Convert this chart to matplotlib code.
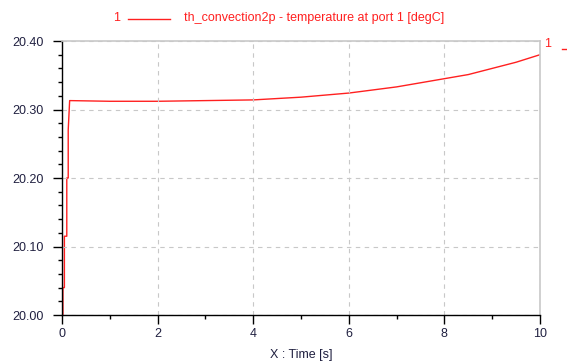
import matplotlib
matplotlib.use("Agg")
import matplotlib.pyplot as plt
from matplotlib.ticker import MultipleLocator, FormatStrFormatter

# simulated temperature at port 1
time_s = [0.0, 0.02, 0.02, 0.05, 0.05, 0.10, 0.10, 0.13, 0.13, 0.16,
          1.0, 2.0, 3.0, 4.0, 5.0, 6.0, 7.0, 8.0, 8.5, 9.0, 9.5, 10.0]
temp_c = [20.00, 20.00, 20.04, 20.04, 20.115, 20.115, 20.20, 20.20, 20.27, 20.313,
          20.312, 20.312, 20.313, 20.314, 20.318, 20.324, 20.333, 20.345,
          20.351, 20.360, 20.369, 20.380]

legend_id = "1"
legend_text = "th_convection2p - temperature at port 1 [degC]"
x_label = "X : Time [s]"

RED = "#ff2020"
TXT = "#202040"

plt.rcParams["font.family"] = ["Liberation Sans", "DejaVu Sans"]

fig = plt.figure(figsize=(5.67, 3.61), dpi=100)
ax = fig.add_axes([62 / 567, 1 - 315 / 361, (540 - 62) / 567, (315 - 41) / 361])

ax.plot(time_s, temp_c, color=RED, lw=1.0, zorder=1)

ax.set_xlim(0, 10)
ax.set_ylim(20.0, 20.4)
ax.xaxis.set_major_locator(MultipleLocator(2))
ax.xaxis.set_minor_locator(MultipleLocator(1))
ax.yaxis.set_major_locator(MultipleLocator(0.1))
ax.yaxis.set_minor_locator(MultipleLocator(0.02))
ax.yaxis.set_major_formatter(FormatStrFormatter("%.2f"))

ax.tick_params(which="major", length=6.5, width=1, color="black",
               labelsize=9, labelcolor=TXT)
ax.tick_params(axis="y", which="major", pad=7)
ax.tick_params(axis="x", which="major", pad=3)
ax.tick_params(which="minor", length=3, width=1, color="black")

ax.grid(True, which="major", color="#c8c8c8", ls=(0, (4, 4)), lw=0.8)
for s in ["top", "right"]:
    ax.spines[s].set_color("#c8c8c8")
    ax.spines[s].set_linewidth(1.2)
for s in ["left", "bottom"]:
    ax.spines[s].set_color("black")
    ax.spines[s].set_linewidth(1.0)

ax.set_xlabel(x_label, fontsize=9, color=TXT, labelpad=6)

# legend row on top
fig.text(113 / 567, 1 - 18 / 361, legend_id, color=RED, fontsize=9,
         ha="left", va="center")
fig.add_artist(plt.Line2D([128 / 567, 170 / 567], [1 - 19 / 361, 1 - 19 / 361],
                          color=RED, lw=1.0))
fig.text(184 / 567, 1 - 18 / 361, legend_text, color=RED, fontsize=9,
         ha="left", va="center")

# curve id at right end
fig.text(544 / 567, 1 - 44 / 361, legend_id, color=RED, fontsize=9,
         ha="left", va="center")
fig.add_artist(plt.Line2D([562 / 567, 566 / 567], [1 - 49 / 361, 1 - 49 / 361],
                          color=RED, lw=1.0))

fig.savefig("out.png", dpi=100)
